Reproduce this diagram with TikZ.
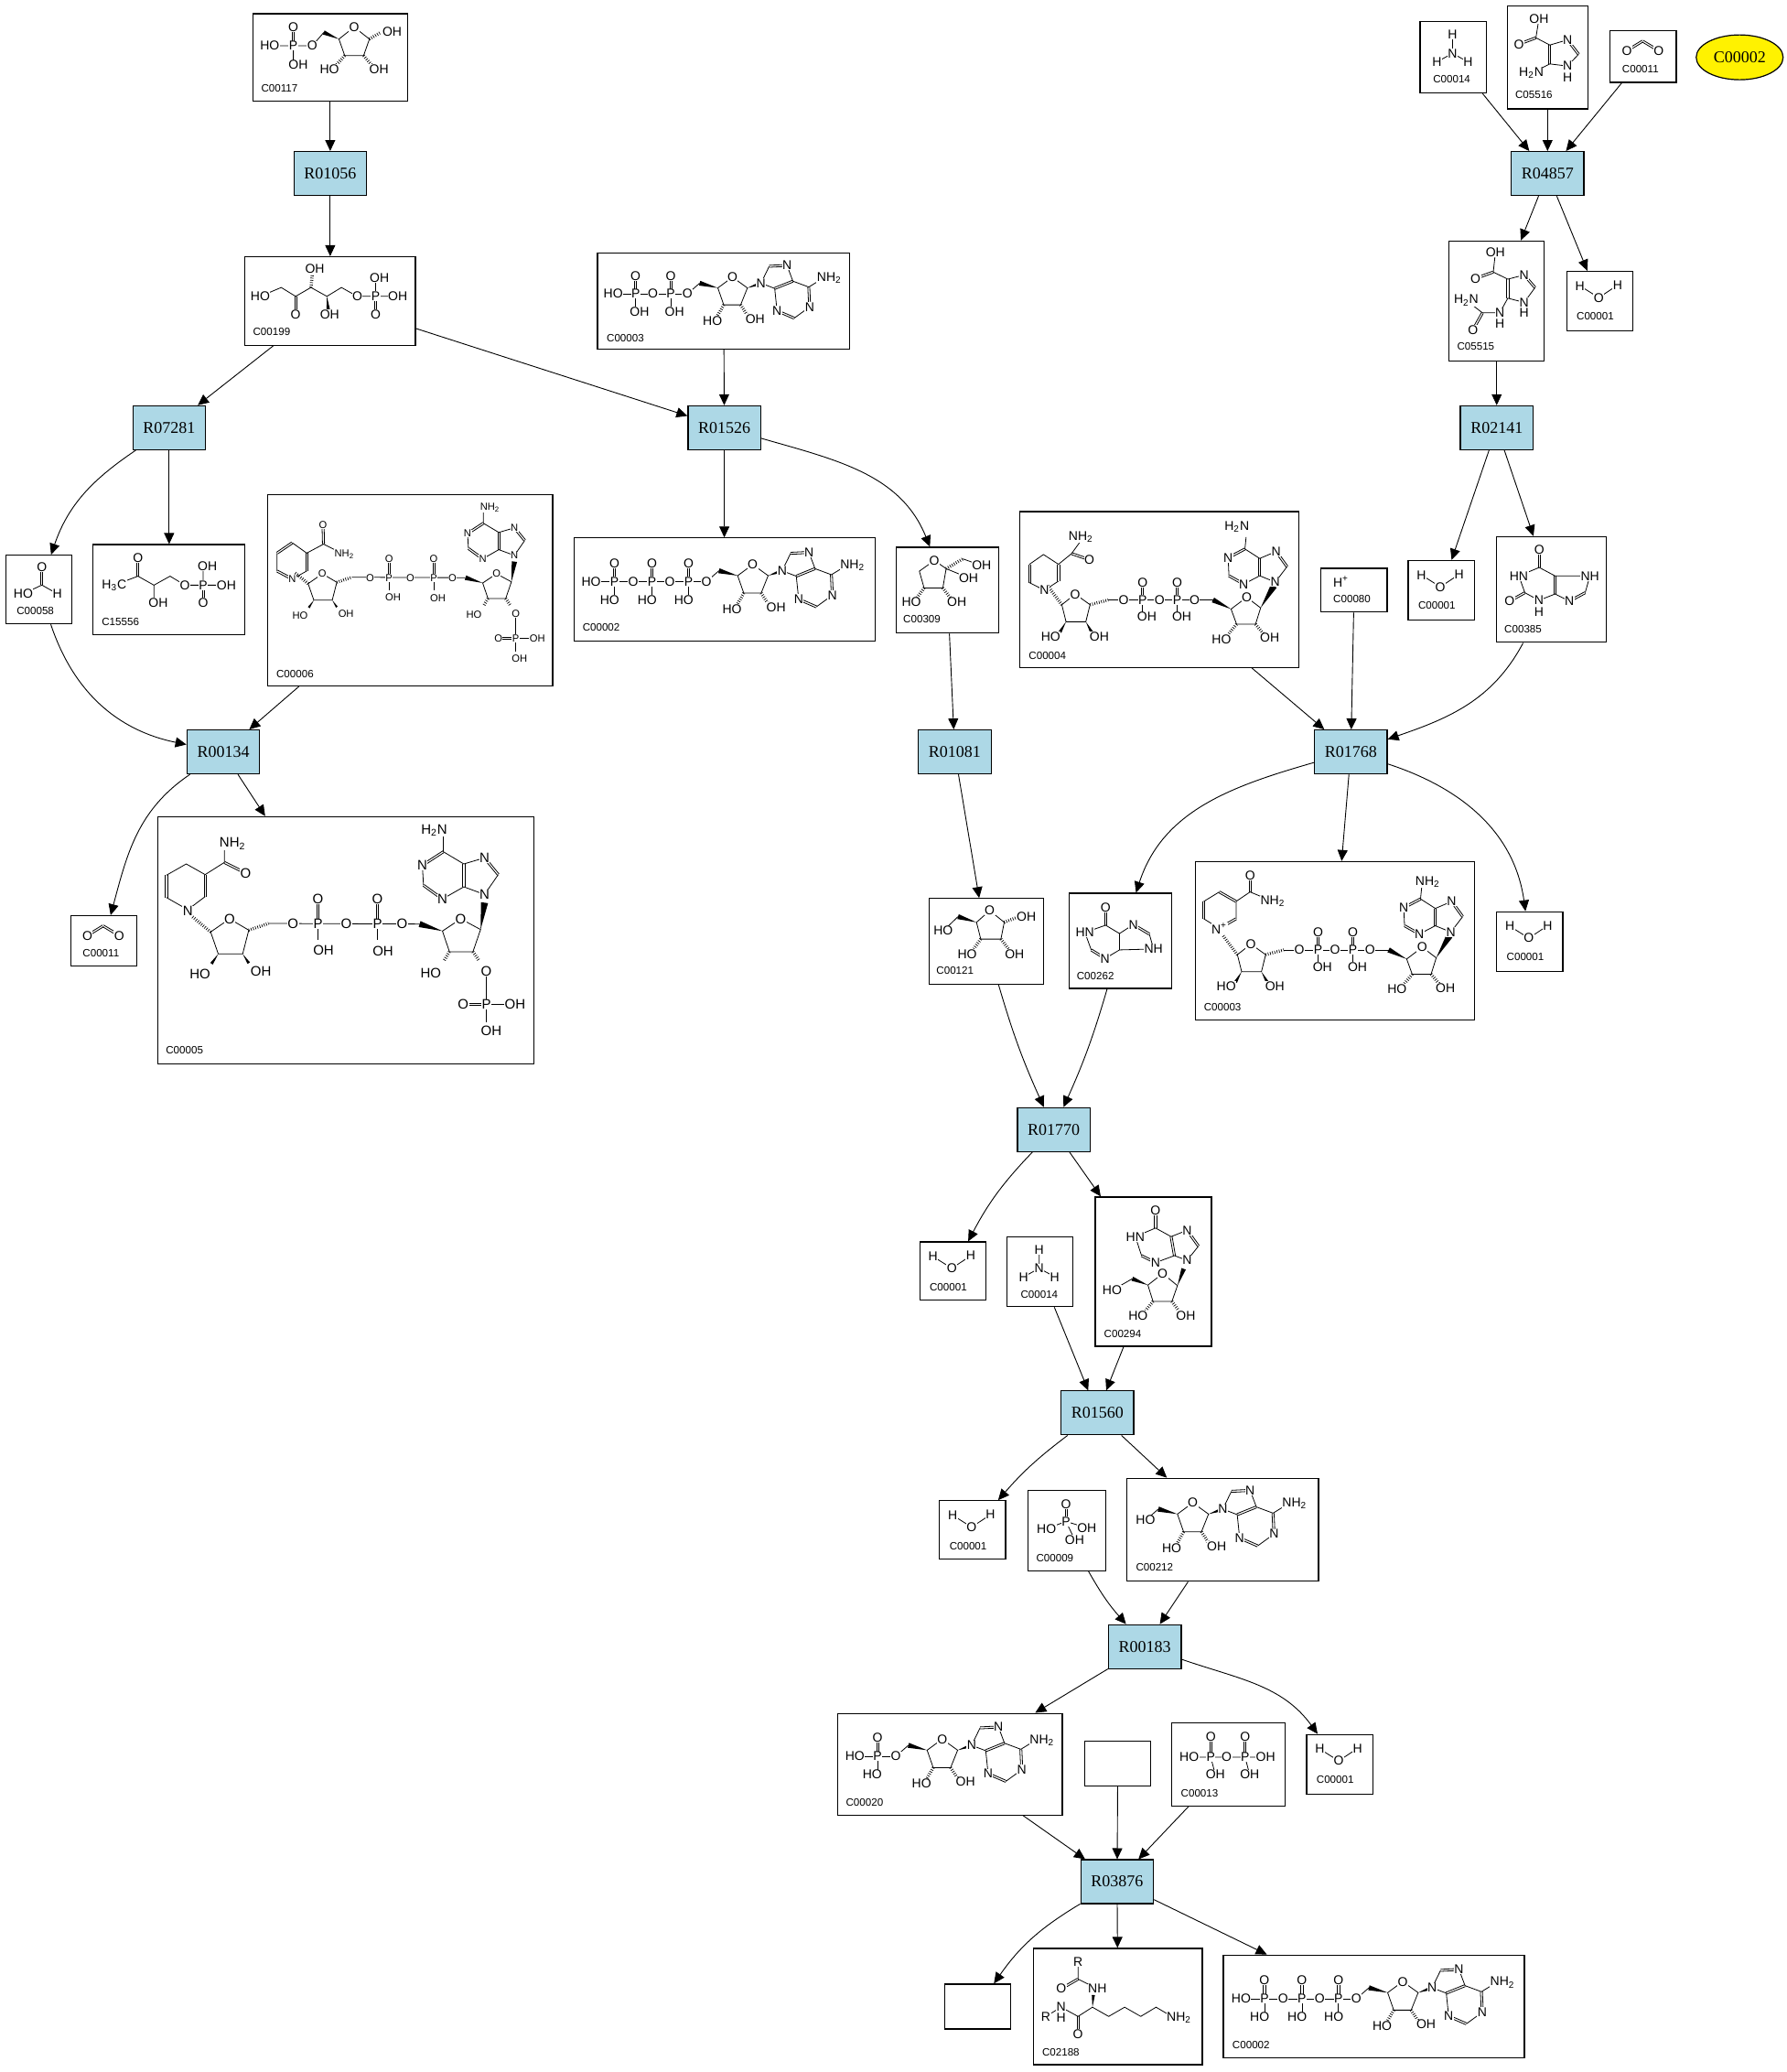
\documentclass[tikz,border=0pt]{standalone}
\usepackage{fontspec}
\setmainfont{Liberation Serif}
\newfontfamily\atomfamily{Liberation Sans}
\usetikzlibrary{arrows.meta,calc,shapes.geometric}
\tikzset{>/.tip={Triangle[length=6pt,width=5.5pt]},
  every edge/.style={draw,line width=.45pt},
  reaction/.style={draw,line width=.6pt,fill=reactionblue,minimum width=39.7pt,minimum height=24pt,inner sep=0pt,font=\fontsize{9}{9}\selectfont},
  compound/.style={draw,line width=.6pt,inner sep=0pt},
  cpdlabel/.style={anchor=west,inner sep=0pt,font=\atomfamily\fontsize{5.8}{5.8}\selectfont},
  atomlabel/.style={fill=white,inner sep=.25pt,font=\atomfamily\fontsize{\atomfs}{\atomfs}\selectfont},
  bondline/.style={line width=.4pt},
  hashline/.style={line width=1.7pt,dash pattern=on .35pt off .9pt}}
\definecolor{reactionblue}{HTML}{ADD8E6}
\def\atomfs{7}
\def\bondgap{.55pt}
\newcounter{atomno}
\newcommand{\atom}[2]{\stepcounter{atomno}\node[atomlabel] (a\theatomno) at (#1) {#2};}
\newcommand{\wbond}[2]{\fill (#1) -- ($(#2)!.13!90:(#1)$) -- ($(#2)!.13!-90:(#1)$) -- cycle;}
\newcommand{\hbond}[2]{\draw[hashline] (#1) -- (#2);}
\newcommand{\sbond}[1]{\draw[bondline] #1;}
\newcommand{\dbond}[2]{\draw[bondline] ($(#1)!\bondgap!90:(#2)$) -- ($(#2)!\bondgap!-90:(#1)$) ($(#1)!\bondgap!-90:(#2)$) -- ($(#2)!\bondgap!90:(#1)$);}
\newcommand{\cpd}[9]{\node[compound,minimum width=(#4-#2)*.7215pt,minimum height=(#5-#3)*.7215pt] (#1) at ({(#2+#4)/2},{(#3+#5)/2}) {};
  \begin{scope}[shift={(#2,#3)}]#9\node[cpdlabel] (#1-label) at (#6,#7) {#8};\end{scope}}
% small molecules
\newcommand{\water}{\sbond{(10,11) -- (24.3,20) -- (38.6,10.5)}\atom{10,11}{H}\atom{24.3,20}{O}\atom{38.6,10.5}{H}}
\newcommand{\ammonia}{\sbond{(24.5,10) -- (24.5,24) (12.7,30.5) -- (24.5,24) -- (36.3,30.5)}\atom{24.5,10}{H}\atom{24.5,24}{N}\atom{12.7,30.5}{H}\atom{36.3,30.5}{H}}
\newcommand{\carbondioxide}{\dbond{12.6,15}{24.5,7.7}\dbond{24.5,7.7}{36.7,15}\atom{12.6,15}{O}\atom{36.7,15}{O}}
% ribose and adenine, 5' oxygen at the origin
\newcommand{\ribosyl}[1]{\sbond{(0,0) -- (9.5,-8.3)}\wbond{23.7,-4.6}{9.5,-8.3}
  \sbond{(23.7,-4.6) -- (35.1,-13) -- (46.8,-4.6) -- (41.5,8.6) -- (28.3,8.6) -- cycle}
  \wbond{46.8,-4.6}{57.4,-8.3}\hbond{28.3,8.6}{23.5,17}\hbond{41.5,8.6}{47,17}
  \sbond{(57.4,-8.3) -- (63.8,-21.5) (77.7,-22.2) -- (82.3,-9.9) -- (94.7,-5.3) (95.4,10.2) -- (83.3,19) (69.9,13.2) -- (68.1,-4.2) -- (57.4,-8.3) (94.7,-5.3) -- (104,-11)}
  \dbond{63.8,-21.5}{77.7,-22.2}\dbond{94.7,-5.3}{95.4,10.2}\dbond{83.3,19}{69.9,13.2}\dbond{68.1,-4.2}{82.3,-9.9}
  \atom{0,0}{#1}\atom{35.1,-13}{O}\atom{19.5,20.9}{HO}\atom{52.8,19.5}{OH}\atom{57.4,-8.3}{N}\atom{77.7,-22.2}{N}\atom{69.9,13.2}{N}\atom{95.4,10.2}{N}\atom{110.7,-12.3}{NH\textsubscript{2}}}
\newcommand{\phosphoryl}[3]{\dbond{#1,0}{#1,-13.9}\sbond{(#1,0) -- (#1,12)}\atom{#1,0}{P}\atom{#1,-13.9}{O}\atom{#1+#3,13.9}{#2}}
\newcommand{\triphosphate}{\sbond{(-87.3,0) -- (0,0)}\ribosyl{O}\atom{-87.3,0}{HO}\atom{-55.4,0}{O}\atom{-27.7,0}{O}\phosphoryl{-69.6}{HO}{-3.6}\phosphoryl{-41.2}{HO}{-3.6}\phosphoryl{-13.5}{HO}{-3.6}}
% the long dinucleotide, drawn in its own units
\newcommand{\nadlong}[3]{\def\atomfs{#1}
  \sbond{(240,478) -- (302,435) -- (365,472) -- (345,550) -- (265,550) -- cycle}\hbond{240,478}{180,428}\hbond{365,472}{430,450}
  \sbond{(430,450) -- (925,452)}\wbond{1000,475}{925,452}\wbond{265,550}{243,582}\wbond{345,550}{365,580}
  \sbond{(1000,475) -- (1060,435) -- (1125,470) -- (1100,543) -- (1023,543) -- cycle}\wbond{1125,470}{1138,382}\hbond{1023,543}{1005,572}\hbond{1100,543}{1120,572}
  \dbond{592,452}{592,370}\dbond{787,452}{787,370}\sbond{(592,452) -- (592,505) (787,452) -- (787,505)}
  \sbond{(1144,608) -- (1144,775) (1144,715) -- (1238,715)}\dbond{1068,715}{1144,715}
  \sbond{(1138,355) -- (1183,290) (1138,235) -- (1070,255) -- (1003,215) (934,260) -- (938,325) (1000,370) -- (1070,330) -- (1138,355) (1003,215) -- (1003,160)}
  \dbond{1183,290}{1138,235}\dbond{1003,215}{934,260}\dbond{938,325}{1000,370}\dbond{1070,330}{1070,255}
  \atom{302,435}{O}\atom{1060,435}{O}\atom{510,452}{O}\atom{685,452}{O}\atom{868,452}{O}\atom{592,370}{O}\atom{787,370}{O}\atom{592,452}{P}\atom{787,452}{P}
  \atom{610,537}{OH}\atom{805,540}{OH}\atom{205,615}{HO}\atom{405,608}{OH}\atom{962,612}{HO}
  \atom{1144,608}{O}\atom{1144,715}{P}\atom{1068,715}{O}\atom{1238,715}{OH}\atom{1160,803}{OH}
  \atom{934,260}{N}\atom{1000,370}{N}\atom{1138,235}{N}\atom{1138,355}{N}\atom{#2}{#3}}
% the short dinucleotide, in box units
\newcommand{\nadshort}[2]{\sbond{(35.4,73.2) -- (45.6,65.2) -- (56.8,73.2) -- (53.6,86.1) -- (38.6,86.1) -- cycle}\hbond{35.4,73.2}{24,58}\hbond{56.8,73.2}{70.5,69.6}
  \sbond{(70.5,69.6) -- (149.9,69.6)}\wbond{163.6,76.5}{149.9,69.6}\wbond{38.6,86.1}{34,94}\wbond{53.6,86.1}{58,94}
  \sbond{(163.6,76.5) -- (175.4,67.6) -- (186,75.6) -- (182.1,88) -- (167.8,88) -- cycle}\wbond{186,75.6}{196,59}\hbond{167.8,88}{162,95}\hbond{182.1,88}{188,95}
  \dbond{96.6,69.6}{96.6,56.4}\dbond{122.8,69.6}{122.8,56.4}\sbond{(96.6,69.6) -- (96.6,80) (122.8,69.6) -- (122.8,80)}
  \sbond{(197.1,56.1) -- (206,44.4) (197.7,32.9) -- (185.3,38.2) -- (174.1,31) (161.4,37.7) -- (162,51.3) (173.2,57.6) -- (185.3,51.3) -- (197.1,56.1) (174.1,31) -- (175,22)}
  \dbond{206,44.4}{197.7,32.9}\dbond{174.1,31}{161.4,37.7}\dbond{162,51.3}{173.2,57.6}\dbond{185.3,51.3}{185.3,38.2}
  \atom{45.6,65.2}{O}\atom{175.4,67.6}{O}\atom{82.3,69.6}{O}\atom{109.4,69.6}{O}\atom{135.9,69.6}{O}\atom{96.6,56.4}{O}\atom{122.8,56.4}{O}\atom{96.6,69.6}{P}\atom{122.8,69.6}{P}
  \atom{99.8,82.5}{OH}\atom{126.3,82.5}{OH}\atom{27,97.1}{HO}\atom{63.8,97.1}{OH}\atom{156.3,99.3}{HO}\atom{192.9,98.3}{OH}
  \atom{197.1,56.1}{N}\atom{197.7,32.9}{N}\atom{173.2,57.6}{N}\atom{161.4,37.7}{N}\atom{#1}{#2}}

\begin{document}
\begin{tikzpicture}[x=.7215pt,y=-.7215pt]
\useasboundingbox (-.6,-.4) rectangle (1352.8,1568.6);
% reactions
\node[reaction] (R01056) at (249.5,131) {R01056};
\node[reaction] (R07281) at (127.5,323.5) {R07281};
\node[reaction] (R01526) at (548,323.5) {R01526};
\node[reaction] (R00134) at (168.5,569) {R00134};
\node[reaction] (R01081) at (722.5,569) {R01081};
\node[reaction] (R01768) at (1022.5,569) {R01768};
\node[reaction] (R01770) at (797.5,855) {R01770};
\node[reaction] (R01560) at (830.5,1069.5) {R01560};
\node[reaction] (R00183) at (866.5,1246.5) {R00183};
\node[reaction] (R03876) at (845.5,1424.5) {R03876};
\node[reaction] (R04857) at (1171.5,131) {R04857};
\node[reaction] (R02141) at (1133,323.5) {R02141};
\node[draw,line width=.6pt,fill=yellow,ellipse,minimum width=47.5pt,minimum height=24.5pt,inner sep=0pt,font=\fontsize{9}{9}\selectfont] (C00002) at (1317,43) {C00002};
% compounds
\cpd{C00117}{191}{10}{308}{76}{6}{56.6}{C00117}{\sbond{(12.7,24.3) -- (44.9,24.3) -- (53.6,14.2) (30.6,24.3) -- (30.6,36)}\dbond{30.6,24.3}{30.6,10.1}\wbond{65.1,19.2}{53.6,14.2}
  \sbond{(65.1,19.2) -- (76.6,10.1) -- (88.2,19.2) -- (83.8,31.7) -- (69.5,31.7) -- cycle}\hbond{88.2,19.2}{96,14.5}\hbond{69.5,31.7}{63,39}\hbond{83.8,31.7}{90,39}
  \atom{12.7,24.3}{HO}\atom{30.6,24.3}{P}\atom{30.6,10.1}{O}\atom{34.3,38.8}{OH}\atom{44.9,24.3}{O}\atom{76.6,10.1}{O}\atom{105.4,13.5}{OH}\atom{57.9,42.1}{HO}\atom{95.4,41.8}{OH}}
\cpd{C00199}{185}{194}{314}{261}{5.8}{56.6}{C00199}{\sbond{(11.5,30) -- (27.4,23.3) -- (38.3,30) -- (49.9,23.3) -- (62,30) -- (73,23.3) -- (85,30) -- (115.6,30) (98.9,30) -- (98.9,16.2)}\dbond{38.3,30}{38.3,43.5}\dbond{98.9,30}{98.9,43.5}\hbond{49.9,23.3}{51,13}\wbond{62,30}{63,40}
  \atom{11.5,30}{HO}\atom{38.3,43.5}{O}\atom{52.8,8.8}{OH}\atom{64.1,43.5}{OH}\atom{85,30}{O}\atom{98.9,30}{P}\atom{101.8,16.2}{OH}\atom{115.6,30}{OH}\atom{98.9,43.5}{O}}
\cpd{C00003-1}{452}{191}{643}{264}{6.7}{64.4}{C00003}{\begin{scope}[shift={(68.1,31.1)},scale=.97]\sbond{(-58,0) -- (0,0)}\ribosyl{O}\atom{-58,0}{HO}\atom{-27,0}{O}\phosphoryl{-40.5}{OH}{3}\phosphoryl{-13.1}{OH}{3}\end{scope}}
\cpd{C00058}{4}{420}{54}{472}{7.8}{42.1}{C00058}{\sbond{(13,29.3) -- (27.1,22.6) -- (38.9,29.3)}\dbond{27.1,22.6}{27.1,9.1}\atom{27.1,9.1}{O}\atom{13,29.3}{HO}\atom{38.9,29.3}{H}}
\cpd{C15556}{70}{412}{185}{480}{6.3}{58.6}{C15556}{\sbond{(15.9,30.7) -- (33.9,23.9) -- (46,30.7) -- (58.2,23.9) -- (69.5,30.7) -- (100.9,30.7) (83.3,30.7) -- (83.3,16.5) (46,30.7) -- (46,40)}\dbond{33.9,23.9}{33.9,9.8}\dbond{83.3,30.7}{83.3,44.2}
  \atom{15.9,30.7}{H\textsubscript{3}C}\atom{33.9,9.8}{O}\atom{49.2,44.2}{OH}\atom{69.5,30.7}{O}\atom{83.3,30.7}{P}\atom{86.5,16.5}{OH}\atom{100.9,30.7}{OH}\atom{83.3,44.2}{O}}
\cpd{C00006}{202}{374}{418}{519}{6.5}{136.2}{C00006}{\begin{scope}[shift={(-11,-15.6)},scale=.174]\def\bondgap{3.2pt}
  \sbond{(105,423) -- (105,345) (171,300) -- (234,345) (234,423) -- (171,458) (234,345) -- (307,306) -- (385,345)}\dbond{171,458}{105,423}\dbond{105,345}{171,300}\dbond{234,345}{234,423}\dbond{307,306}{305,223}
  \nadlong{5.6}{1032,145}{NH\textsubscript{2}}\atom{171,458}{N}\atom{305,223}{O}\atom{398,349}{NH\textsubscript{2}}\end{scope}}
\cpd{C00002-1}{434}{407}{662}{485}{6.4}{67.9}{C00002}{\begin{scope}[shift={(100.4,33.1)}]\triphosphate\end{scope}}
\cpd{C00309}{678}{414}{756}{479}{5.3}{54.7}{C00309}{\sbond{(29.1,10) -- (38,16.2) -- (35.5,30.8) -- (21.3,30.8) -- (17.7,18.1) -- cycle (38,16.2) -- (55,23.2)}\hbond{38,16.2}{50.7,8.8}\sbond{(50.7,8.8) -- (64.9,13.9)}\hbond{21.3,30.8}{16,38}\hbond{35.5,30.8}{41,38}
  \atom{29.1,10}{O}\atom{64.9,13.9}{OH}\atom{55,23.2}{OH}\atom{11.7,41.7}{HO}\atom{46.1,41.7}{OH}}
\cpd{C00004}{772}{387}{983}{505}{6.4}{109}{C00004}{\sbond{(18.5,59.6) -- (7.1,53.8) (7.1,39.9) -- (17.7,32.5) -- (29.1,39.9) (29.1,52.6) -- (18.5,59.6) (29.1,39.9) -- (39,31.8) -- (46.1,22)}\dbond{7.1,53.8}{7.1,39.9}\dbond{29.1,39.9}{29.1,52.6}\dbond{39,31.8}{52.5,36.4}
  \begin{scope}[shift={(-3.8,-2.7)}]\nadshort{168,14}{H\textsubscript{2}N}\end{scope}\atom{18.5,59.6}{N}\atom{46.1,19}{NH\textsubscript{2}}\atom{52.5,36.4}{O}}
\cpd{C00080}{1000}{430}{1050}{463}{9}{23}{C00080}{\atom{15,10}{H\textsuperscript{+}}}
\cpd{C00011-1}{53}{693}{103}{731}{8.8}{28.7}{C00011}{\carbondioxide}
\cpd{C00005}{119}{618}{404}{805}{5.8}{176.5}{C00005}{\begin{scope}[shift={(-15.5,-23.1)},scale=.231]\def\bondgap{2.4pt}
  \sbond{(165,405) -- (222,362) (222,290) -- (160,255) -- (95,292) (95,365) -- (165,405) (222,290) -- (285,250) -- (285,205)}\dbond{222,362}{222,290}\dbond{95,292}{95,365}\dbond{285,250}{355,285}
  \nadlong{7.5}{973,145}{H\textsubscript{2}N}\atom{165,410}{N}\atom{355,285}{O}\atom{312,188}{NH\textsubscript{2}}\end{scope}}
\cpd{C00121}{703}{680}{790}{745}{5.4}{54.7}{C00121}{\sbond{(10.8,24.5) -- (22,13.7)}\wbond{36,18}{22,13.7}\sbond{(36,18) -- (46,9.1) -- (57,18) -- (54.5,30.7) -- (39.2,30.7) -- cycle}\hbond{57,18}{66,14.5}\hbond{39.2,30.7}{34,38}\hbond{54.5,30.7}{60,38}
  \atom{10.8,24.5}{HO}\atom{46,9.1}{O}\atom{73.7,13.7}{OH}\atom{29,42}{HO}\atom{64.8,42}{OH}}
\cpd{C00262}{809}{676}{887}{748}{5.7}{62.4}{C00262}{\sbond{(27.8,24.2) -- (12.1,29.7) -- (16.9,42.9) (27.4,49.4) -- (38.3,42.9) -- (64.1,42.2) -- (60.9,30.9) (48.8,23.7) -- (38.3,30.5) -- (27.8,24.2) (38.3,42.9) -- (38.3,30.5)}\dbond{27.8,24.2}{27.8,10.6}\dbond{16.9,42.9}{27.4,49.4}\dbond{48.8,23.7}{60.9,30.9}
  \atom{27.8,10.6}{O}\atom{12.1,29.7}{HN}\atom{27.4,49.4}{N}\atom{48.8,23.7}{N}\atom{64.1,42.2}{NH}}
\cpd{C00003-2}{905}{652}{1116}{772}{6}{110}{C00003}{\begin{scope}[shift={(-3.8,-2.7)}]\sbond{(9.9,46) -- (21.7,53.3) (34.4,46) -- (34.4,32.9) (9.9,32.9) -- (21.7,25.7) (34.4,32.9) -- (45,25.7) -- (62.2,32.9)}\dbond{21.7,25.7}{34.4,32.9}\dbond{9.9,32.9}{9.9,46}\dbond{21.7,53.3}{34.4,46}\dbond{45,25.7}{45,13}
  \nadshort{179.5,18}{NH\textsubscript{2}}\atom{21.7,53.3}{N\textsuperscript{+}}\atom{45,13}{O}\atom{62.2,32.9}{NH\textsubscript{2}}\end{scope}}
\cpd{C00001-3}{1133}{690}{1183}{735}{7.3}{34.3}{C00001}{\water}
\cpd{C00001-4}{696}{940}{746}{984}{7.3}{34.3}{C00001}{\water}
\cpd{C00014-2}{762}{936}{812}{989}{10.2}{44}{C00014}{\ammonia}
\cpd{C00294}{829}{906}{917}{1019}{6.4}{103.6}{C00294}{\sbond{(45.6,23.5) -- (30.3,30) -- (35,44.4) (45.6,49.7) -- (59.9,44.4) -- (69.5,48) -- (78.1,37.2) (69.5,25.2) -- (57.4,30) -- (45.6,23.5) (12.7,70.7) -- (28,61.9)}\dbond{45.6,23.5}{45.6,10.1}\dbond{35,44.4}{45.6,49.7}\dbond{59.9,44.4}{57.4,30}\dbond{69.5,25.2}{78.1,37.2}
  \wbond{39.8,66.7}{28,61.9}\sbond{(39.8,66.7) -- (51,58) -- (62.2,67.1) -- (58,79.1) -- (43.7,79.1) -- cycle}\wbond{62.2,67.1}{66.9,54.4}\hbond{43.7,79.1}{38,86}\hbond{58,79.1}{63,86}
  \atom{45.6,10.1}{O}\atom{30.3,30}{HN}\atom{45.6,49.7}{N}\atom{69.5,25.2}{N}\atom{69.5,48}{N}\atom{51,58}{O}\atom{12.7,70.7}{HO}\atom{32.4,89.7}{HO}\atom{68.5,89.7}{OH}}
\cpd{C00001-5}{711}{1136}{761}{1180}{7.3}{34.3}{C00001}{\water}
\cpd{C00009}{778}{1128}{837}{1189}{6}{51.3}{C00009}{\sbond{(14,29.2) -- (28.8,23.7) -- (44.6,28.5) (28.8,23.7) -- (35.3,37.4)}\dbond{28.8,23.7}{28.8,10.4}\atom{28.8,10.4}{O}\atom{28.8,23.7}{P}\atom{14,29.2}{HO}\atom{44.6,28.5}{OH}\atom{35.3,37.4}{OH}}
\cpd{C00212}{853}{1119}{998}{1197}{6.5}{67.7}{C00212}{\begin{scope}[shift={(14,31.8)},scale=1.02]\ribosyl{HO}\end{scope}}
\cpd{C00020}{634}{1297}{804}{1374}{5.9}{67.2}{C00020}{\begin{scope}[shift={(43.9,32.5)}]\sbond{(-31,0) -- (0,0)}\ribosyl{O}\atom{-31,0}{HO}\phosphoryl{-13.8}{HO}{-4}\end{scope}}
\node[compound,minimum width=36pt,minimum height=24.5pt] (C-empty-1) at (846,1335) {};
\cpd{C00013}{887}{1304}{973}{1367}{6.6}{53.3}{C00013}{\sbond{(13.1,26.2) -- (71,26.2) (29.4,26.2) -- (32.9,39.4) (55.4,26.2) -- (58.9,39.4)}\dbond{29.4,26.2}{29.4,10.4}\dbond{55.4,26.2}{55.4,10.4}
  \atom{29.4,10.4}{O}\atom{55.4,10.4}{O}\atom{13.1,26.2}{HO}\atom{29.4,26.2}{P}\atom{41.5,26.2}{O}\atom{55.4,26.2}{P}\atom{71,26.2}{OH}\atom{32.9,39.4}{OH}\atom{58.9,39.4}{OH}}
\cpd{C00001-6}{989}{1313}{1039}{1358}{7.3}{34.3}{C00001}{\water}
\node[compound,minimum width=36pt,minimum height=24.5pt] (C-empty-2) at (740,1519) {};
\cpd{C02188}{782}{1475}{910}{1563}{6.5}{78.9}{C02188}{\sbond{(33.9,10.4) -- (33.9,23.2) -- (48.5,30.6) (21.1,44.5) -- (33.9,51.5) -- (44.8,44.5) -- (57.1,51.5) -- (69.2,44.5) -- (81.4,51.5) -- (93,44.5) -- (104,51) (9.5,51.5) -- (21.1,44.5)}\dbond{33.9,23.2}{21.1,30.6}\dbond{33.9,51.5}{33.9,65}\wbond{44.8,44.5}{45.5,35.3}
  \atom{33.9,10.4}{R}\atom{21.1,30.6}{O}\atom{48.5,30.6}{NH}\atom{21.1,44.5}{N}\atom{21.1,52.7}{H}\atom{9.5,51.5}{R}\atom{33.9,65}{O}\atom{110.4,52.2}{NH\textsubscript{2}}}
\cpd{C00002-2}{926}{1480}{1154}{1558}{6.6}{67.9}{C00002}{\begin{scope}[shift={(100.7,33.1)}]\triphosphate\end{scope}}
\cpd{C00014-1}{1075}{16}{1125}{70}{9.6}{43.4}{C00014}{\ammonia}
\cpd{C05516}{1141}{4}{1202}{82}{5.8}{67}{C05516}{\sbond{(24,9.6) -- (21.7,24.2) -- (32.2,29.7) -- (45.6,25.8) (54,36.7) -- (45.6,45.6) -- (32.2,44) -- (18.2,51)}\dbond{21.7,24.2}{8.9,29}\dbond{45.6,25.8}{54,36.7}\dbond{32.2,29.7}{32.2,44}
  \atom{24,9.6}{OH}\atom{8.9,29}{O}\atom{45.6,25.8}{N}\atom{45.6,45.6}{N}\atom{45.6,54.2}{H}\atom{18.2,51}{H\textsubscript{2}N}}
\cpd{C00011-2}{1219}{23}{1269}{62}{8.8}{28.7}{C00011}{\carbondioxide}
\cpd{C05515}{1097}{182}{1169}{273}{5.8}{80}{C05515}{\sbond{(35,8.9) -- (33.4,23.6) -- (44.4,29) -- (56.8,25.8) (65,35.4) -- (56.8,46.6) -- (44.4,43.4) -- (38.3,54.5) -- (25.2,54.5) -- (12.9,45)}\dbond{33.4,23.6}{20,28.4}\dbond{56.8,25.8}{65,35.4}\dbond{44.4,29}{44.4,43.4}\dbond{25.2,54.5}{18,67.3}
  \atom{35,8.9}{OH}\atom{20,28.4}{O}\atom{56.8,25.8}{N}\atom{56.8,46.6}{N}\atom{56.8,54.5}{H}\atom{38.3,54.5}{N}\atom{38.3,62.5}{H}\atom{12.9,45}{H\textsubscript{2}N}\atom{18,67.3}{O}}
\cpd{C00001-1}{1186}{205}{1236}{250}{7.3}{34.3}{C00001}{\water}
\cpd{C00001-2}{1066}{424}{1116}{469}{7.3}{34.3}{C00001}{\water}
\cpd{C00385}{1133}{406}{1216}{486}{5.6}{69.9}{C00385}{\sbond{(32.2,23.3) -- (16.8,29.7) -- (21.3,42.4) -- (32,48.2) -- (44.2,43.4) -- (55.1,48.8) (67,42.4) -- (70.6,29.7) -- (44.2,29.7) -- (32.2,23.3)}\dbond{32.2,23.3}{32.2,9.9}\dbond{21.3,42.4}{9.8,48.8}\dbond{44.2,43.4}{44.2,29.7}\dbond{55.1,48.8}{67,42.4}
  \atom{32.2,9.9}{O}\atom{16.8,29.7}{HN}\atom{9.8,48.8}{O}\atom{32,48.2}{N}\atom{32,56.8}{H}\atom{70.6,29.7}{NH}\atom{55.1,48.8}{N}}
% connectors
\path[->] (C00117) edge (R01056);
\path[->] (R01056) edge (C00199);
\path[->] (C00199) edge (R07281);
\path[->] (C00199) edge (R01526);
\path[->] (C00003-1) edge (R01526);
\path[->] (R07281) edge[out=214,in=71] (C00058);
\path[->] (R07281) edge (C15556);
\path[->,bend right=30] (C00058) edge (R00134);
\path[->] (C00006) edge (R00134);
\path[->] (R00134) edge[out=214,in=75] (C00011-1);
\path[->] (R00134) edge (C00005);
\path[->] (R01526) edge (C00002-1);
\path[->] (R01526) edge[out=-16,in=112] (C00309);
\path[->] (C00309) edge (R01081);
\path[->] (R01081) edge (C00121);
\path[->] (C00004) edge (R01768);
\path[->] (C00080) edge (R01768);
\path[->] (C00385) edge[out=242,in=19] (R01768);
\path[->] (R01768) edge[out=196,in=72] (C00262);
\path[->] (R01768) edge (C00003-2);
\path[->] (R01768) edge[out=-18,in=98] (C00001-3);
\path[->,bend right=4] (C00121) edge (R01770);
\path[->,bend left=4] (C00262) edge (R01770);
\path[->,bend right=8] (R01770) edge (C00001-4);
\path[->] (R01770) edge (C00294);
\path[->] (C00014-2) edge (R01560);
\path[->] (C00294) edge (R01560);
\path[->,bend right=6] (R01560) edge (C00001-5);
\path[->] (R01560) edge (C00212);
\path[->,bend right=6] (C00009) edge (R00183);
\path[->] (C00212) edge (R00183);
\path[->] (R00183) edge (C00020);
\path[->] (R00183) edge[out=-19,in=126] (C00001-6);
\path[->] (C00020) edge (R03876);
\path[->] (C-empty-1) edge (R03876);
\path[->] (C00013) edge (R03876);
\path[->] (R03876) edge[out=211,in=55] (C-empty-2);
\path[->] (R03876) edge (C02188);
\path[->] (R03876) edge (C00002-2);
\path[->] (C00014-1) edge (R04857);
\path[->] (C05516) edge (R04857);
\path[->] (C00011-2) edge (R04857);
\path[->] (R04857) edge (C05515);
\path[->] (R04857) edge (C00001-1);
\path[->] (C05515) edge (R02141);
\path[->] (R02141) edge (C00001-2);
\path[->] (R02141) edge (C00385);
\end{tikzpicture}
\end{document}
